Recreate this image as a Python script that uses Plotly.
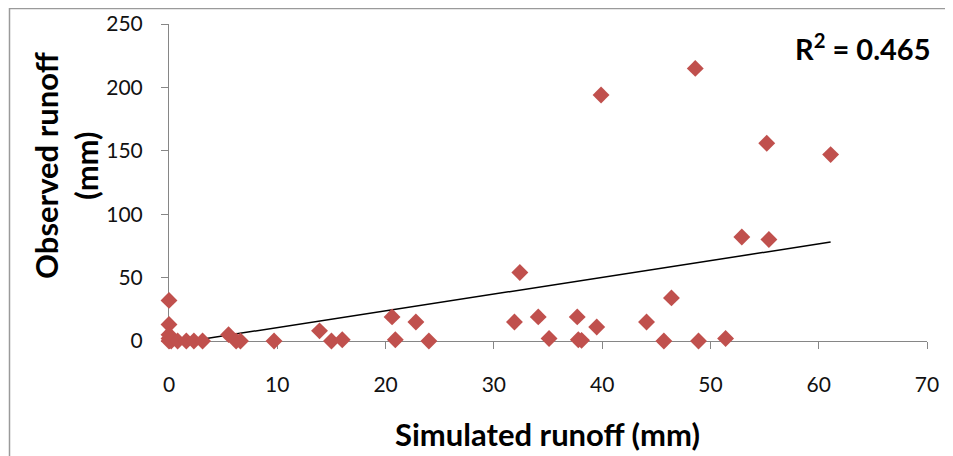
import plotly.graph_objects as go

# Data
simulated = [0, 0, 0, 0, 0, 0.2, 0.8, 1.6, 2.3, 3.1, 5.5, 6.2, 6.6, 9.7, 13.9, 15.0, 16.0,
             20.6, 20.9, 22.8, 24.0, 31.9, 32.4, 34.1, 35.1, 37.7, 37.8, 38.1, 39.5, 39.9,
             44.1, 45.7, 46.4, 48.6, 48.9, 51.4, 52.9, 55.2, 55.4, 61.1]
observed = [32, 13, 5, 2, 0, 0, 0, 0, 0, 0, 5, 0, 0, 0, 8, 0, 1,
            19, 1, 15, 0, 15, 54, 19, 2, 19, 1, 0.5, 11, 194,
            15, 0, 34, 215, 0, 2, 82, 156, 80, 147]

trend_intercept = -2.6
trend_slope = 1.32
r_squared = 0.465

x_ticks = [0, 10, 20, 30, 40, 50, 60, 70]
y_ticks = [0, 50, 100, 150, 200, 250]

trend_x = [min(simulated), max(simulated)]
trend_y = [trend_intercept + trend_slope * v for v in trend_x]

FONT = "Lato"

fig = go.Figure()
fig.add_trace(go.Scatter(
    x=trend_x, y=trend_y, mode="lines",
    line=dict(color="#000000", width=1.5),
    hoverinfo="skip", showlegend=False,
))
fig.add_trace(go.Scatter(
    x=simulated, y=observed, mode="markers",
    marker=dict(symbol="diamond", size=13, color="#C0504D", line=dict(width=0)),
    cliponaxis=False, showlegend=False,
))

# The page body adds an 8px offset; figure coordinates below are page coords minus 8.
OFF = 8
W, H = 953 - OFF, 456 - OFF
L, R, T, B = 169 - OFF, 26, 24 - OFF, 115
pw, ph = W - L - R, H - T - B

def px_x(p):
    return (p - OFF - L) / pw

def px_y(p):
    return (H - B - (p - OFF)) / ph

fig.update_layout(
    width=W, height=H,
    margin=dict(l=L, r=R, t=T, b=B, autoexpand=False),
    paper_bgcolor="white", plot_bgcolor="white",
    font=dict(family=FONT, color="#000000"),
    xaxis=dict(
        range=[0, 70], tickvals=x_ticks, ticktext=[str(v) for v in x_ticks],
        showgrid=False, zeroline=False, showline=True, linecolor="#868686", linewidth=1,
        ticks="outside", ticklen=7, tickcolor="#868686", tickwidth=1,
        tickfont=dict(size=21, family=FONT, color="#111111"),
        ticklabelstandoff=18, layer="below traces",
    ),
    yaxis=dict(
        range=[0, 250], tickvals=y_ticks, ticktext=[str(v) for v in y_ticks],
        showgrid=False, zeroline=False, showline=True, linecolor="#868686", linewidth=1,
        ticks="outside", ticklen=7, tickcolor="#868686", tickwidth=1,
        tickfont=dict(size=21, family=FONT, color="#111111"),
        ticklabelstandoff=14, layer="below traces",
    ),
    shapes=[dict(
        type="rect", xref="paper", yref="paper",
        x0=px_x(9.5), x1=px_x(1000), y0=px_y(520), y1=px_y(8.5),
        line=dict(color="#9a9a9a", width=1.5), fillcolor="rgba(0,0,0,0)", layer="below",
    )],
    annotations=[
        dict(text="Simulated runoff (mm)", xref="paper", yref="paper",
             x=px_x(547), y=px_y(434), xanchor="center", yanchor="middle",
             showarrow=False, font=dict(size=31, family=FONT, color="#000000", weight="bold")),
        dict(text="Observed runoff<br>(mm)", xref="paper", yref="paper",
             x=px_x(66), y=px_y(165), xanchor="center", yanchor="middle", textangle=-90,
             showarrow=False, font=dict(size=31, family=FONT, color="#000000", weight="bold")),
        dict(text=f"R<sup>2</sup> = {r_squared}", xref="paper", yref="paper",
             x=px_x(933), y=px_y(47), xanchor="right", yanchor="middle",
             showarrow=False, font=dict(size=29, family=FONT, color="#000000", weight="bold")),
    ],
)

fig.write_html("out.html")
